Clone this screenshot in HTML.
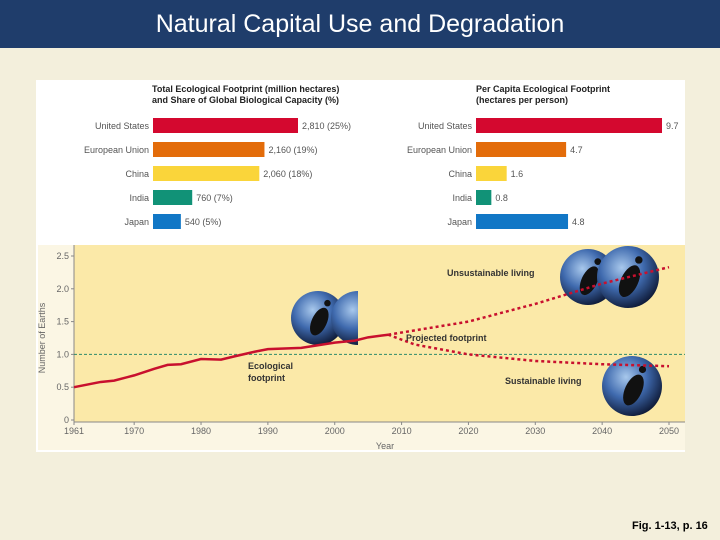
<!DOCTYPE html>
<html><head><meta charset="utf-8"><style>
body{margin:0;width:720px;height:540px;background:#f3efdc;font-family:"Liberation Sans",sans-serif;overflow:hidden;position:relative}
#hdr{position:absolute;left:0;top:0;width:720px;height:48px;background:#1f3d6b;color:#fff;font-size:25px;text-align:center;line-height:48px}
#foot{position:absolute;left:632px;top:520px;font-size:11px;font-weight:bold;color:#000}
svg{position:absolute;left:0;top:0}
</style></head><body>
<div id="hdr">Natural Capital Use and Degradation</div>
<svg id="chart" width="720" height="540">
<defs>
<radialGradient id="glb" cx="0.4" cy="0.35" r="0.7"><stop offset="0" stop-color="#a8c8ec"/><stop offset="0.5" stop-color="#3f6aae"/><stop offset="1" stop-color="#0b1530"/></radialGradient>
</defs>
<rect x="36" y="80" width="649" height="372" fill="#fff"/>
<rect x="38" y="245" width="647" height="205" fill="#fbf6e4"/>
<rect x="74" y="245" width="611" height="177" fill="#fbe9a8"/>
<g id="bars"></g>
<g id="line"></g>
</svg>
<div id="foot">Fig. 1-13, p. 16</div>
<script>
const countries=["United States","European Union","China","India","Japan"];
const totalVals=[2810,2160,2060,760,540];
const totalLabels=["2,810 (25%)","2,160 (19%)","2,060 (18%)","760 (7%)","540 (5%)"];
const perCapVals=[9.7,4.7,1.6,0.8,4.8];
const barColors=["#d4082f","#e36c0a","#fad53a","#119277","#1177c6"];
const histYears=[1961,1963,1965,1967,1970,1973,1975,1977,1980,1983,1985,1988,1990,1995,2000,2003,2005,2008];
const histVals=[0.5,0.54,0.58,0.6,0.68,0.78,0.84,0.85,0.93,0.92,0.97,1.04,1.08,1.1,1.18,1.21,1.26,1.3];
const unsYears=[2008,2020,2030,2040,2050];
const unsVals=[1.3,1.5,1.77,2.08,2.33];
const susYears=[2008,2012,2020,2030,2040,2050];
const susVals=[1.3,1.15,1.0,0.9,0.85,0.82];
const xTicks=[1961,1970,1980,1990,2000,2010,2020,2030,2040,2050];
const yTicks=[0,0.5,1.0,1.5,2.0,2.5];
const yTickLabels=["0","0.5","1.0","1.5","2.0","2.5"];
const NS="http://www.w3.org/2000/svg";
function mk(p,t,a,txt){const e=document.createElementNS(NS,t);for(const k in a)e.setAttribute(k,a[k]);if(txt!==undefined)e.textContent=txt;p.appendChild(e);return e;}
const bars=document.getElementById('bars');
const bx1=153,bs1=145/2810,bx2=476,bs2=186/9.7;
const rowY=i=>125+24*i;
let t;
t=mk(bars,'text',{x:152,y:92,'font-size':9,'font-weight':'bold',fill:'#222'},'Total Ecological Footprint (million hectares)');

mk(bars,'text',{x:152,y:103,'font-size':9,'font-weight':'bold',fill:'#222'},'and Share of Global Biological Capacity (%)');
t=mk(bars,'text',{x:476,y:92,'font-size':9,'font-weight':'bold',fill:'#222'},'Per Capita Ecological Footprint');

mk(bars,'text',{x:476,y:103,'font-size':9,'font-weight':'bold',fill:'#222'},'(hectares per person)');
countries.forEach((c,i)=>{
 const y=rowY(i);
 let l=mk(bars,'text',{x:149,y:y+4,'font-size':9,fill:'#555','text-anchor':'end'},c);
 
 let r=mk(bars,'rect',{x:bx1,y:y-7,width:totalVals[i]*bs1,height:15,fill:barColors[i]});
 
 let v=mk(bars,'text',{x:bx1+totalVals[i]*bs1+4,y:y+4,'font-size':9,fill:'#555'},totalLabels[i]);
 
 let l2=mk(bars,'text',{x:472,y:y+4,'font-size':9,fill:'#555','text-anchor':'end'},c);
 
 let r2=mk(bars,'rect',{x:bx2,y:y-7,width:perCapVals[i]*bs2,height:15,fill:barColors[i]});
 
 let v2=mk(bars,'text',{x:bx2+perCapVals[i]*bs2+4,y:y+4,'font-size':9,fill:'#555'},String(perCapVals[i]));
 
});
const g=document.getElementById('line');
const X=yr=>74+(yr-1961)*(669-74)/(2050-1961);
const Y=v=>420-v*(420-256)/2.5;
mk(g,'line',{x1:74,y1:245,x2:74,y2:422,stroke:'#888','stroke-width':1});
mk(g,'line',{x1:74,y1:422,x2:685,y2:422,stroke:'#888','stroke-width':1});
yTicks.forEach((v,i)=>{let e=mk(g,'text',{x:69,y:Y(v)+3,'font-size':9,fill:'#666','text-anchor':'end'},yTickLabels[i]);
 
 mk(g,'line',{x1:71,y1:Y(v),x2:74,y2:Y(v),stroke:'#888'});});
xTicks.forEach(yr=>{let e=mk(g,'text',{x:X(yr),y:434,'font-size':9,fill:'#666','text-anchor':'middle'},String(yr));
 
 mk(g,'line',{x1:X(yr),y1:422,x2:X(yr),y2:425,stroke:'#888'});});
t=mk(g,'text',{x:385,y:449,'font-size':9,fill:'#666','text-anchor':'middle'},'Year');

t=mk(g,'text',{x:0,y:0,'font-size':9,fill:'#666','text-anchor':'middle',transform:'translate(45,338) rotate(-90)'},'Number of Earths');

t=mk(g,'line',{x1:74,y1:Y(1),x2:685,y2:Y(1),stroke:'#2e8a6a','stroke-width':1,'stroke-dasharray':'3,2'});

function globe(cx,cy,r,name){const gg=mk(g,'g',{});
 mk(gg,'circle',{cx:cx,cy:cy,r:r,fill:'url(#glb)'});
 mk(gg,'ellipse',{cx:cx+r*0.1,cy:cy+r*0.1,rx:r*0.28,ry:r*0.55,fill:'#111',transform:`rotate(25 ${cx} ${cy})`});
 mk(gg,'circle',{cx:cx+r*0.35,cy:cy-r*0.55,r:r*0.12,fill:'#111'});}
globe(318,318,27,'footprint-globe-current');
mk(g,'clipPath',{id:'cp'});mk(document.getElementById('cp'),'rect',{x:300,y:280,width:58,height:80});
const gc=mk(g,'g',{'clip-path':'url(#cp)'});
mk(gc,'circle',{cx:358,cy:318,r:27,fill:'url(#glb)'});
globe(588,277,28,'footprint-globe-unsustainable-1');
globe(628,277,31,'footprint-globe-unsustainable-2');
globe(632,386,30,'footprint-globe-sustainable');
const pts=(xs,vs)=>xs.map((yr,i)=>X(yr)+','+Y(vs[i])).join(' ');
t=mk(g,'polyline',{points:pts(histYears,histVals),fill:'none',stroke:'#c8102e','stroke-width':2.5});

t=mk(g,'polyline',{points:pts(unsYears,unsVals),fill:'none',stroke:'#c8102e','stroke-width':2.5,'stroke-dasharray':'3,3'});

t=mk(g,'polyline',{points:pts(susYears,susVals),fill:'none',stroke:'#c8102e','stroke-width':2.5,'stroke-dasharray':'3,3'});

const lab=(x,y,s,n)=>{let e=mk(g,'text',{x:x,y:y,'font-size':9,'font-weight':'bold',fill:'#333'},s);};
lab(447,276,'Unsustainable living','unsustainable-label');
lab(406,341,'Projected footprint','projected-label');
lab(248,369,'Ecological','ecological-footprint-label');
lab(248,381,'footprint','ecological-footprint-label-2');
lab(505,384,'Sustainable living','sustainable-label');
</script>
</body></html>
